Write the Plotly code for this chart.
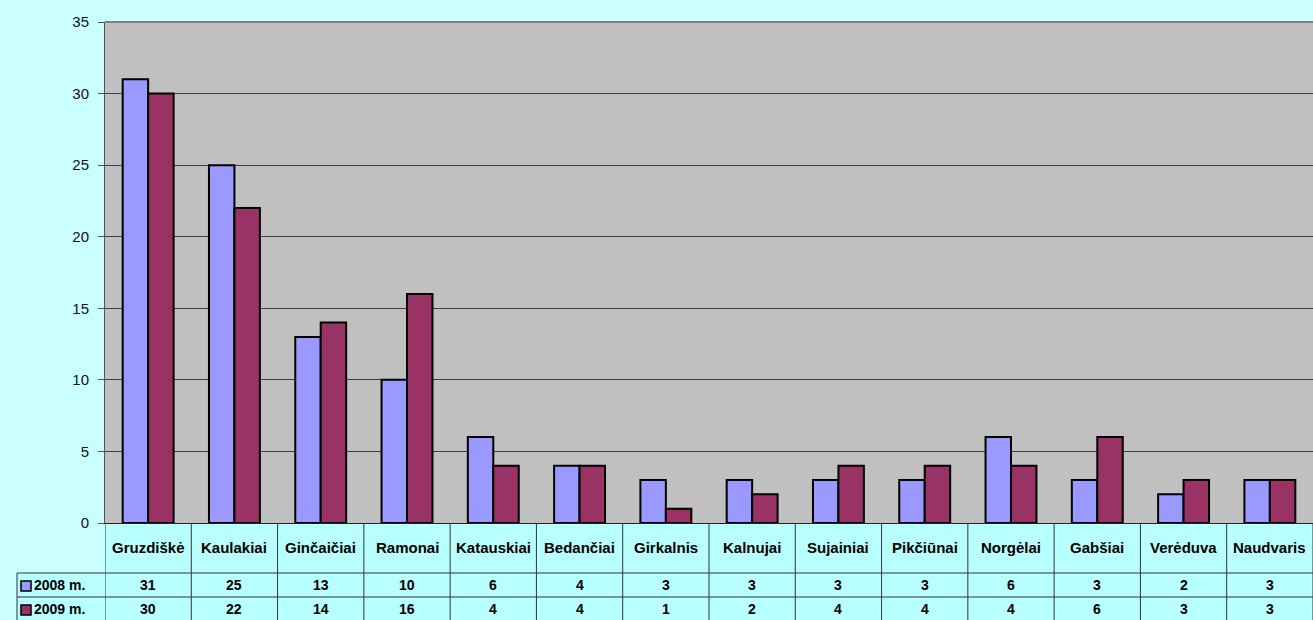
import plotly.graph_objects as go

categories = ["Gruzdiškė", "Kaulakiai", "Ginčaičiai", "Ramonai", "Katauskiai", "Bedančiai",
              "Girkalnis", "Kalnujai", "Sujainiai", "Pikčiūnai", "Norgėlai", "Gabšiai",
              "Verėduva", "Naudvaris"]
series_names = ["2008 m.", "2009 m."]
values_2008 = [31, 25, 13, 10, 6, 4, 3, 3, 3, 3, 6, 3, 2, 3]
values_2009 = [30, 22, 14, 16, 4, 4, 1, 2, 4, 4, 4, 6, 3, 3]
y_ticks = [0, 5, 10, 15, 20, 25, 30, 35]

colors = ["#9999FF", "#993366"]

W, H = 1313, 620
L, R, T, B = 105, 0, 22, 97
PW, PH = W - L - R, H - T - B
FONT = "Liberation Sans, Arial"

def py(p):  # pixel y -> paper y
    return (H - B - p) / PH

def px(p):  # pixel x -> paper x
    return (p - L) / PW

fig = go.Figure()
for name, vals, c in zip(series_names, [values_2008, values_2009], colors):
    fig.add_trace(go.Bar(x=list(range(len(categories))), y=vals, name=name,
                         marker=dict(color=c, line=dict(color="black", width=2))))

shapes = []
annotations = []
# table background
shapes.append(dict(type="rect", xref="paper", yref="paper", x0=0, x1=1, y0=py(620), y1=0,
                   fillcolor="#B8FFFF", line=dict(width=0), layer="below"))
shapes.append(dict(type="rect", xref="paper", yref="paper", x0=px(17), x1=0, y0=py(620), y1=py(573),
                   fillcolor="#B8FFFF", line=dict(width=0), layer="below"))
line_style = dict(color="#333333", width=1)
# vertical table lines
for i in range(len(categories) + 1):
    shapes.append(dict(type="line", xref="x", yref="paper", x0=i - 0.5, x1=i - 0.5,
                       y0=0, y1=py(622), line=line_style))
shapes.append(dict(type="line", xref="paper", yref="paper", x0=px(17), x1=px(17),
                   y0=py(573), y1=py(622), line=line_style))
# horizontal table lines
for yy in [573, 597]:
    shapes.append(dict(type="line", xref="paper", yref="paper", x0=px(17), x1=1,
                       y0=py(yy), y1=py(yy), line=line_style))

# header labels
for i, cat in enumerate(categories):
    annotations.append(dict(x=i, y=py(547), xref="x", yref="paper", text=f"<b>{cat}</b>",
                            showarrow=False, xanchor="center", yanchor="middle",
                            font=dict(size=15, color="black", family=FONT)))
# values
for row_y, vals in zip([585, 609], [values_2008, values_2009]):
    for i, v in enumerate(vals):
        annotations.append(dict(x=i, y=py(row_y), xref="x", yref="paper", text=f"<b>{v}</b>",
                                showarrow=False, xanchor="center", yanchor="middle",
                                font=dict(size=14, color="black", family=FONT)))
# row labels with legend keys
for row_y, name, c in zip([585, 609], series_names, colors):
    shapes.append(dict(type="rect", xref="paper", yref="paper", x0=px(21), x1=px(31),
                       y0=py(row_y + 6), y1=py(row_y - 4), fillcolor=c,
                       line=dict(color="black", width=1.5)))
    annotations.append(dict(x=px(32), y=py(row_y), xref="paper", yref="paper",
                            text=f"<b>{name}</b>", showarrow=False, xanchor="left",
                            yanchor="middle",
                            font=dict(size=14, color="black", family=FONT)))

fig.update_layout(
    width=W, height=H,
    margin=dict(l=L, r=R, t=T, b=B, pad=0),
    paper_bgcolor="#CAFFFF",
    plot_bgcolor="#C0C0C0",
    barmode="group",
    bargap=0.41,
    bargroupgap=0,
    showlegend=False,
    shapes=shapes,
    annotations=annotations,
    font=dict(family=FONT, color="#111111"),
    xaxis=dict(range=[-0.5, len(categories) - 0.5], showticklabels=False, ticks="",
               showgrid=False, showline=True, linecolor="#222222", linewidth=1,
               zeroline=False, fixedrange=True),
    yaxis=dict(range=[0, 35], tickvals=y_ticks, ticks="outside", ticklen=6,
               tickcolor="#555555", showline=True, linecolor="#555555", linewidth=1,
               gridcolor="#404040", gridwidth=1, zeroline=False,
               tickfont=dict(size=15, color="#111111"), ticklabelstandoff=6),
)
fig.add_shape(type="line", xref="paper", yref="paper", x0=0, x1=1, y0=1, y1=1,
              line=dict(color="#808080", width=2))

fig.write_html("out.html", config={"displayModeBar": False},
               post_script="document.body.style.margin='0';document.body.style.overflow='hidden';")
